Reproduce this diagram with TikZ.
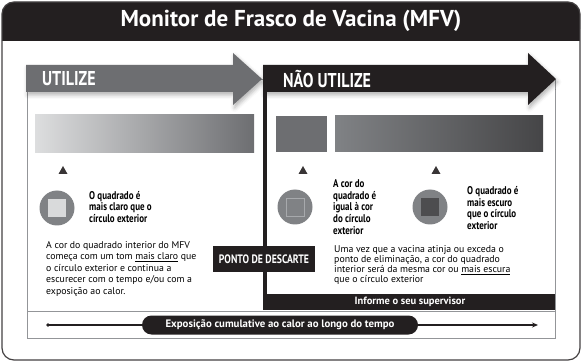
\documentclass[tikz,border=0pt]{standalone}
\usepackage{fontspec}
\setmainfont{PT Sans}
\newfontfamily\condfont{PT Sans}[FakeStretch=0.8]
\usetikzlibrary{arrows.meta,shadows.blur}

\definecolor{mfvblack}{HTML}{231F20}
\definecolor{mfvgrey}{HTML}{6D6E71}
\definecolor{mfvcircle}{HTML}{808285}
\definecolor{mfvlight}{HTML}{D9DADB}
\definecolor{mfvedge}{HTML}{A7A9AC}
\definecolor{mfvdark}{HTML}{4D4D4F}
\definecolor{mfvframe}{HTML}{939598}

\tikzset{
  arrowtext/.style={text=white,anchor=west,inner sep=0pt,font=\condfont\bfseries\fontsize{20}{20}\selectfont},
  vialnote/.style={anchor=west,align=left,inner sep=0pt,font=\condfont\bfseries\fontsize{11.2}{11.6}\selectfont},
  vialpara/.style={anchor=north west,align=left,inner sep=0pt,font=\fontsize{9.8}{11.5}\selectfont},
  vial/.style={circle,fill=mfvcircle,minimum size=35pt,inner sep=0pt},
  spot/.style={minimum size=18pt,inner sep=0pt},
  blackbox/.style={fill=mfvblack,text=white,inner sep=0pt,font=\condfont\bfseries\fontsize{12.2}{12.2}\selectfont},
  arrowshadow/.style={blur shadow={shadow xshift=1.5pt,shadow yshift=-3pt,shadow blur radius=4pt,shadow opacity=30}}
}

\begin{document}
\begin{tikzpicture}[x=1pt,y=-1pt]
  \useasboundingbox (0,0) rectangle (583,363);
  % outer frame and title
  \fill[mfvblack,rounded corners=12pt] (2,2) rectangle (580,41);
  \fill[mfvblack] (2,25) rectangle (580,41);
  \draw[mfvblack!85,line width=1.2pt,rounded corners=12pt] (2,2) rectangle (580,360);
  \node[text=white,font=\bfseries\fontsize{23}{23}\selectfont] (title) at (291,21) {Monitor de Frasco de Vacina (MFV)};
  % inner frame
  \draw[mfvframe,line width=0.8pt] (27,79) rectangle (555,338);
  \draw[mfvframe,line width=0.8pt] (27,311) -- (555,311);
  % arrows
  \fill[mfvgrey,arrowshadow] (26,65) -- (233,65) -- (233,53) -- (262,79) -- (233,105) -- (233,92) -- (26,92) -- cycle;
  \fill[mfvblack,arrowshadow] (263,65) -- (528,65) -- (528,53) -- (556,79) -- (528,105) -- (528,92) -- (263,92) -- cycle;
  \node[arrowtext] (use) at (42,79) {UTILIZE};
  \node[arrowtext] (nouse) at (283,79) {NÃO UTILIZE};
  % discard line and band
  \fill[mfvblack] (263,65) rectangle (267,310);
  \fill[mfvblack] (263,294) rectangle (555,310);
  \node[blackbox,fill=none,font=\bfseries\fontsize{10.5}{10.5}\selectfont] (report) at (410,302) {Informe o seu supervisor};
  \node[blackbox,minimum width=102pt,minimum height=26pt] (discard) at (264,259) {PONTO DE DESCARTE};
  % colour bars
  \shade[left color=mfvlight!90!white,right color=mfvgrey] (35,115) rectangle (254,153);
  \fill[mfvgrey] (276,116) rectangle (327,152);
  \shade[left color=mfvcircle,right color=mfvdark!90!black] (335,116) rectangle (543,152);
  % markers
  \fill[mfvblack!90] (63,166) -- ++(4.5,8) -- ++(-9,0) -- cycle;
  \fill[mfvblack!90] (303,166) -- ++(4.5,8) -- ++(-9,0) -- cycle;
  \fill[mfvblack!90] (436,166) -- ++(4.5,8) -- ++(-9,0) -- cycle;
  % vials
  \node[vial] (vialA) at (57,208) {};
  \node[spot,fill=mfvlight] (spotA) at (vialA) {};
  \node[vial] (vialB) at (295,207) {};
  \node[spot,draw=mfvedge,line width=0.7pt] (spotB) at (vialB) {};
  \node[vial] (vialC) at (430,207) {};
  \node[spot,fill=mfvdark] (spotC) at (vialC) {};
  \node[vialnote] (noteA) at (89,207) {O quadrado é\\mais claro que o\\círculo exterior};
  \node[vialnote] (noteB) at (333,207) {A cor do\\quadrado é\\igual à cor\\do círculo\\exterior};
  \node[vialnote] (noteC) at (467,208) {O quadrado é\\mais escuro\\que o círculo\\exterior};
  % explanations
  \node[vialpara] (paraA) at (46,241) {A cor do quadrado interior do MFV\\começa com um tom \underline{mais claro} que\\o círculo exterior e continua a\\escurecer com o tempo e/ou com a\\exposição ao calor.};
  \node[vialpara,font=\fontsize{9.8}{10.2}\selectfont] (paraB) at (334,245) {Uma vez que a vacina atinja ou exceda o\\ponto de eliminação, a cor do quadrado\\interior será da mesma cor ou \underline{mais escura}\\que o círculo exterior};
  % time line
  \coordinate (tstart) at (48,325);
  \coordinate (tend) at (538,325);
  \draw[mfvblack,line width=1.2pt,-{Stealth[length=6pt,width=5pt]}] (tstart) -- (tend);
  \fill[mfvblack] (tstart) circle (1.8pt);
  \node[fill=mfvblack,text=white,rounded corners=9.5pt,minimum width=276pt,minimum height=19pt,inner sep=0pt,font=\fontsize{10.8}{10.8}\selectfont\bfseries] (heat) at (280,325) {Exposição cumulative ao calor ao longo do tempo};
\end{tikzpicture}
\end{document}
